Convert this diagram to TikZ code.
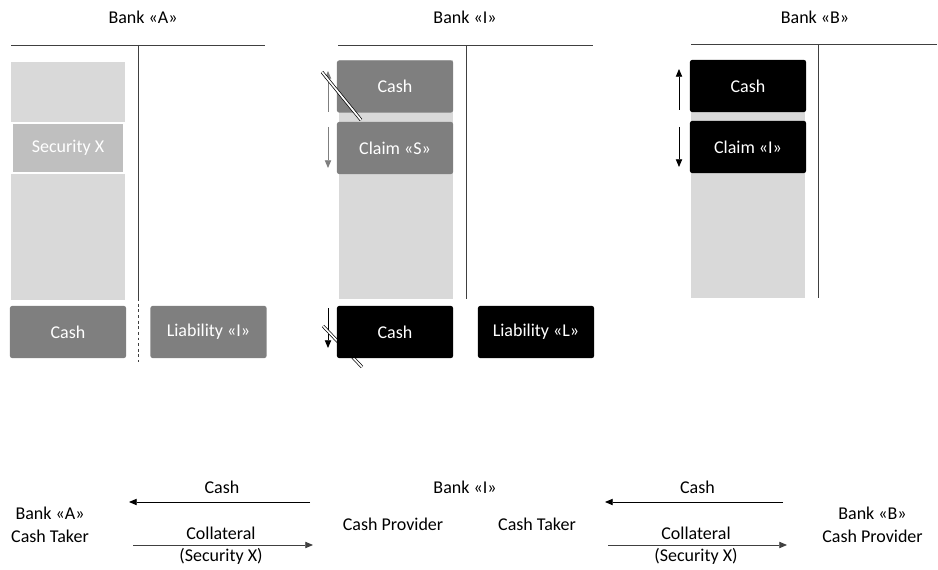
\documentclass[tikz,border=0pt]{standalone}
\usepackage{fontspec}
\setmainfont{Carlito}
\usetikzlibrary{arrows.meta}

\definecolor{lightbar}{HTML}{D9D9D9}
\definecolor{midbox}{HTML}{7F7F7F}
\definecolor{secbox}{HTML}{BFBFBF}
\definecolor{rulegrey}{HTML}{404040}

\tikzset{
  assetbar/.style={fill=lightbar, minimum width=2.85cm, inner sep=0pt},
  greybox/.style={fill=midbox, text=white, rounded corners=0.05cm,
    minimum width=2.9cm, minimum height=1.3cm, inner sep=0pt},
  blackbox/.style={greybox, fill=black},
  flow/.style={-{Triangle[width=4.5pt,length=5.5pt]}, line width=0.6pt},
  strike/.style={draw=black, double=white, double distance=1.2pt, line width=0.5pt},
}

\begin{document}
\begin{tikzpicture}[x=0.025cm, y=-0.025cm, font=\fontsize{12.8}{15}\selectfont]

    \useasboundingbox (0,0) rectangle (938,570);

    % bank A
    \node[] (titleA) at (143,17) {Bank «A»};
    \draw[rulegrey] (11,45) -- (265,45);
    \node[assetbar, minimum height=5.95cm] (barA) at (68,181) {};
    \node[fill=secbox,
    draw=white,
    line width=2pt,
    text=white,
    minimum width=2.8cm,
    minimum height=1.25cm] (secX) at (68,148) {Security X};
    \draw[rulegrey] (138,45) -- (138,300);
    \draw[rulegrey, dash pattern=on 2pt off 2pt] (138,107) -- (138,362);
    \node[greybox] (cashA) at (68,332) {Cash};
    \node[greybox] (liabA) at (208.5,332) {Liability «I»};

    % bank I
    \node[] (titleI) at (465,17) {Bank «I»};
    \draw[rulegrey] (338,45.5) -- (593,45.5);
    \draw[rulegrey] (466,45.5) -- (466,299);
    \node[assetbar, minimum height=5.975cm] (barI) at (396,179.5) {};
    \node[greybox] (cashI) at (395,86.5) {Cash};
    \node[greybox] (claimS) at (395,148) {Claim «S»};

    \coordinate (upI1) at (328,112);
    \coordinate (upI2) at (328,71);
    \coordinate (dnI1) at (328,127);
    \coordinate (dnI2) at (328,168);
    \coordinate (dnIb1) at (328,308);
    \coordinate (dnIb2) at (328,348);
    \draw[flow, midbox] (upI1) to (upI2);
    \draw[flow, midbox] (dnI1) to (dnI2);
    \draw[flow] (dnIb1) to (dnIb2);
    \draw[strike] (322,72) -- (361,120);

    \draw[strike] (323,326) -- (362,367);
    \node[blackbox] (cashIb) at (395,332) {Cash};
    \node[blackbox] (liabL) at (536,332) {Liability «L»};

    % bank B
    \node[] (titleB) at (815,17) {Bank «B»};
    \draw[rulegrey] (691,44.5) -- (937,44.5);
    \draw[rulegrey] (818,44.5) -- (818,298);
    \node[assetbar, minimum height=5.95cm] (barB) at (748,179) {};
    \node[blackbox] (cashB) at (748,86) {Cash};
    \node[blackbox] (claimI) at (748,147) {Claim «I»};

    \coordinate (upB1) at (679,110);
    \coordinate (upB2) at (679,69);
    \coordinate (dnB1) at (679,127);
    \coordinate (dnB2) at (679,167);
    \draw[flow] (upB1) to (upB2);
    \draw[flow] (dnB1) to (dnB2);

    % repo chain
    \node[align=center, font=\fontsize{12.8}{16.4}\selectfont] (partyA) at (50,525) {Bank «A»\\Cash Taker};
    \node[] (partyI) at (465,487) {Bank «I»};
    \node[] (provI) at (393,524) {Cash Provider};
    \node[] (takerI) at (537,524) {Cash Taker};
    \node[align=center, font=\fontsize{12.8}{16.4}\selectfont] (partyB) at (872.5,525) {Bank «B»\\Cash Provider};

    \coordinate (cashA1) at (310,502);
    \coordinate (cashA2) at (129,502);
    \coordinate (collA1) at (133,545);
    \coordinate (collA2) at (313,545);
    \coordinate (cashB1) at (783,502);
    \coordinate (cashB2) at (605,502);
    \coordinate (collB1) at (608,545);
    \coordinate (collB2) at (787,545);

    \node[] (cashLblA) at (222,487) {Cash};
    \node[] (collLblA) at (221,533) {Collateral};
    \node[] (secLblA) at (221,556) {(Security X)};
    \node[] (cashLblB) at (697.5,487) {Cash};
    \node[] (collLblB) at (696,533) {Collateral};
    \node[] (secLblB) at (696,556) {(Security X)};

      \draw[flow] (cashA1) to (cashA2);
      \draw[flow, draw=rulegrey] (collA1) to (collA2);
      \draw[flow] (cashB1) to (cashB2);
      \draw[flow, draw=rulegrey] (collB1) to (collB2);
  \end{tikzpicture}
\end{document}
